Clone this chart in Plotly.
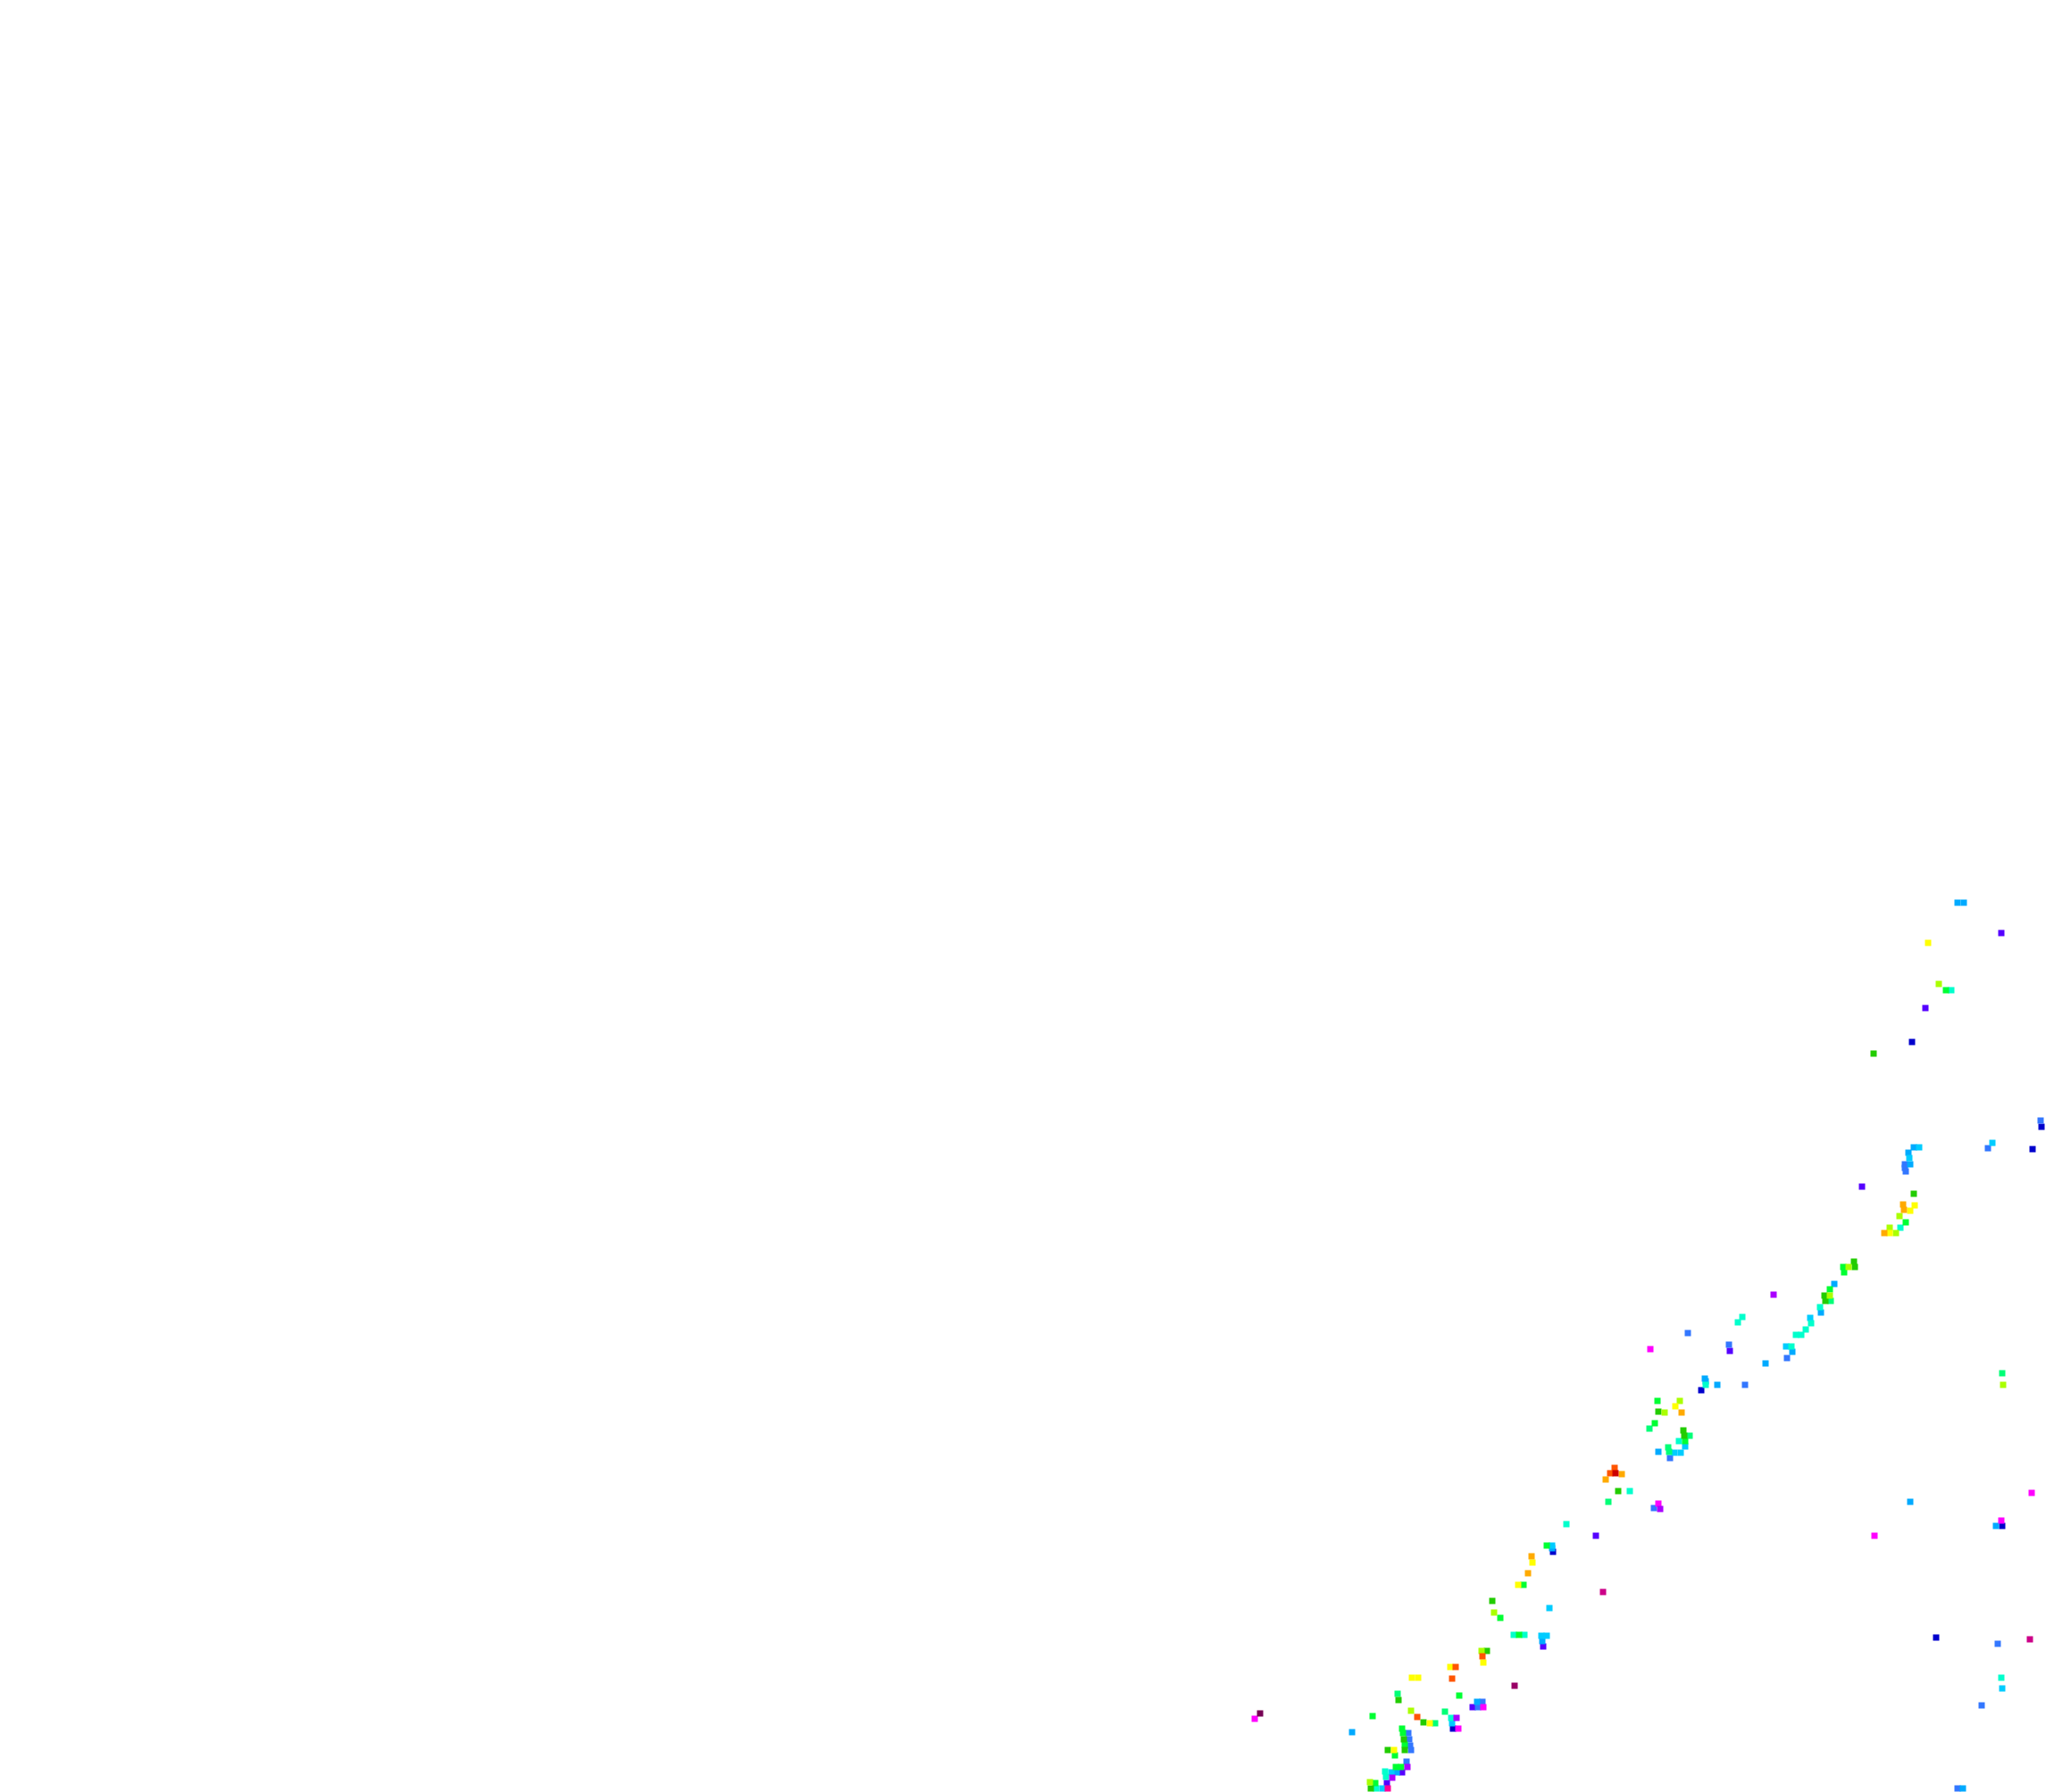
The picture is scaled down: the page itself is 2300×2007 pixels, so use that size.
import plotly.graph_objects as go

# Each colour group: readings as (x, y) in the chart's own units (axis 0-2300, 0-2007, y downward)
dark_blue = [(2141,1167),(2286,1262),(2276,1287),(1905,1557),(1739,1738),(1627,1936),(2242,1709),(2168,1834)]
indigo = [(2241,1045),(2156,1129),(2085,1329),(1937,1513),(1787,1720),(1728,1844),(1649,1912),(1570,1985),(1553,1997)]
blue = [(2285,1255),(2226,1286),(2133,1304),(2133,1308),(2134,1312),(1890,1493),(1936,1506),(2001,1521),(1954,1551),
        (1870,1633),(1852,1689),(1660,1906),(1655,1912),(1577,1941),(1578,1948),(1579,1955),(1580,1960),(1575,1973),
        (2237,1841),(2219,1910),(2192,2003)]
azure = [(2192,1011),(2199,1011),(2143,1285),(2137,1291),(2139,1304),(2054,1438),(2039,1470),(2007,1514),(1977,1527),
         (1909,1544),(1910,1547),(1923,1551),(1857,1626),(1738,1734),(1727,1838),(1654,1906),(1514,1940),(1564,1985),
         (2139,1682),(2235,1709),(2198,2003)]
cyan = [(2231,1280),(2149,1285),(2138,1297),(2027,1476),(2000,1508),(1887,1620),(1875,1627),(1882,1627),(1738,1731),
        (1735,1801),(1726,1832),(1732,1832),(1626,1930),(1558,1985),(1548,2003),(2242,1891)]
aqua = [(2185,1109),(2128,1375),(2038,1464),(2028,1482),(2022,1489),(1951,1475),(1946,1481),(2011,1495),(2017,1495),
        (2006,1508),(1910,1551),(1880,1614),(1825,1670),(1754,1707),(1695,1831),(1707,1831),(1625,1924),(1551,1984),
        (1552,1990),(1541,2003),(2241,1879)]
spring = [(2050,1457),(1847,1600),(1892,1608),(1868,1621),(1869,1626),(1801,1682),(1565,1897),(1618,1917),(1607,1930),(2242,1538)]
green = [(2179,1109),(2134,1369),(2064,1419),(2065,1425),(2049,1444),(1856,1569),(1853,1594),(1887,1614),(1732,1731),
         (1706,1775),(1680,1812),(1701,1831),(1634,1899),(1537,1922),(1570,1936),(1571,1941),(1573,1954),(1562,1966),
         (1563,1979),(1569,1979),(1540,1997)]
dark_green = [(2098,1180),(2143,1337),(2076,1413),(2077,1419),(2043,1451),(2044,1457),(1857,1581),(1885,1602),(1886,1608),
              (1812,1670),(1671,1793),(1665,1849),(1566,1904),(1594,1929),(1572,1948),(1573,1960),(1554,1960),(1535,2003)]
yellow_green = [(2171,1102),(2127,1362),(2116,1375),(2123,1381),(2070,1419),(2049,1451),(1881,1569),(1864,1582),
                (1673,1806),(1659,1849),(1580,1916),(1534,1996),(2243,1551)]
yellow = [(2159,1056),(2139,1356),(2144,1350),(2116,1381),(1876,1575),(1716,1750),(1700,1775),(1661,1862),(1624,1867),
          (1581,1879),(1588,1879),(1601,1930),(1561,1960)]
orange = [(2131,1349),(2132,1355),(2110,1381),(1883,1582),(1816,1651),(1798,1657),(1715,1743),(1711,1762)]
orange_red = [(1808,1644),(1803,1650),(1660,1855),(1630,1867),(1626,1880),(1587,1923)]
red = [(1809,1650)]
magenta = [(1848,1511),(1857,1684),(1661,1912),(1633,1936),(1405,1925),(2275,1672),(2241,1703),(2099,1720)]
purple = [(1986,1450),(1859,1690),(1631,1924),(1576,1979),(1559,1991)]
pink = [(1554,2003)]
crimson = [(1795,1783),(2273,1836)]
plum = [(1696,1888)]
dark_plum = [(1411,1919)]

groups = [
    (dark_blue, "#0000cc"), (indigo, "#5500ff"), (blue, "#3377ff"), (azure, "#00aaff"), (cyan, "#00ccff"),
    (aqua, "#00ffcc"), (spring, "#00ff77"), (green, "#00ff33"), (dark_green, "#22cc00"), (yellow_green, "#aaff00"),
    (yellow, "#ffff00"), (orange, "#ffaa00"), (orange_red, "#ff5500"), (red, "#cc0000"), (magenta, "#ff00ff"),
    (purple, "#aa00ff"), (pink, "#ff0099"), (crimson, "#cc0088"), (plum, "#990066"), (dark_plum, "#770055"),
]

fig = go.Figure()
for pts, col in groups:
    fig.add_trace(go.Scatter(
        x=[p[0] for p in pts], y=[p[1] for p in pts], mode="markers",
        marker=dict(symbol="square", size=7, color=col, line=dict(width=0)),
        showlegend=False, hoverinfo="skip"))

fig.update_layout(
    width=2300, height=2007, margin=dict(l=0, r=0, t=0, b=0),
    paper_bgcolor="white", plot_bgcolor="white",
    xaxis=dict(range=[0, 2300], visible=False, fixedrange=True),
    yaxis=dict(range=[2007, 0], visible=False, fixedrange=True),
)
fig.write_html("out.html", config={"displayModeBar": False},
               post_script="document.body.style.margin='0';document.documentElement.style.overflow='hidden';")
